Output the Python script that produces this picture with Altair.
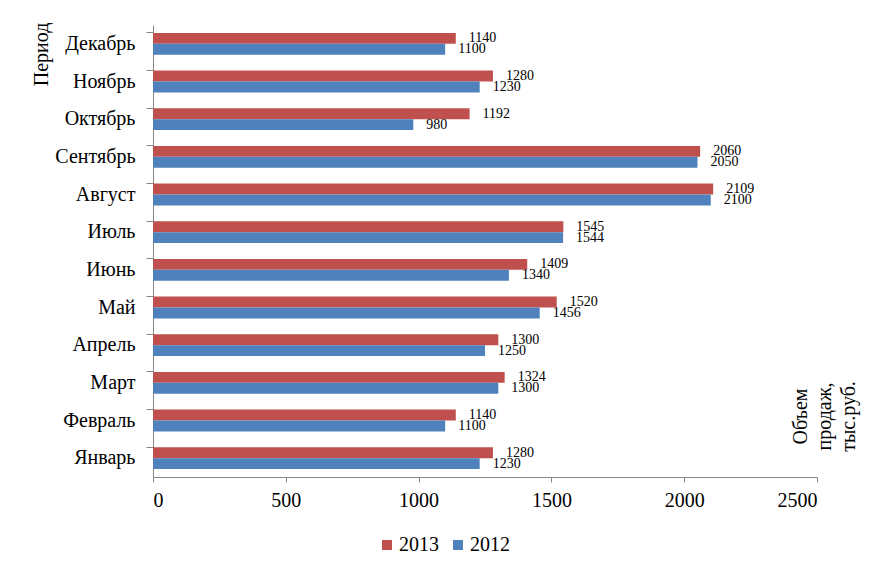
import altair as alt
import pandas as pd

months = ["Январь", "Февраль", "Март", "Апрель", "Май", "Июнь", "Июль",
          "Август", "Сентябрь", "Октябрь", "Ноябрь", "Декабрь"]
sales_2013 = [1280, 1140, 1324, 1300, 1520, 1409, 1545, 2109, 2060, 1192, 1280, 1140]
sales_2012 = [1230, 1100, 1300, 1250, 1456, 1340, 1544, 2100, 2050, 980, 1230, 1100]
years = ["2013", "2012"]
x_ticks = [0, 500, 1000, 1500, 2000, 2500]

rows = []
for m, a, b in zip(months, sales_2013, sales_2012):
    rows.append({"month": m, "year": "2013", "value": a})
    rows.append({"month": m, "year": "2012", "value": b})
df = pd.DataFrame(rows)

font = "Liberation Serif"
grey = "#868686"
y_order = months[::-1]

y_enc = alt.Y(
    "month:N",
    sort=y_order,
    scale=alt.Scale(domain=y_order, paddingInner=0.42, paddingOuter=0.21),
    axis=alt.Axis(
        title="Период", titleAngle=270, titleX=-112, titleY=29,
        titleAlign="center", titleBaseline="middle",
        titleFontSize=20, titleFont=font, titleFontWeight="normal", titleColor="black",
        labelFontSize=20, labelFont=font, labelColor="black", labelPadding=11,
        tickSize=7, bandPosition=0, domainColor=grey, tickColor=grey,
    ),
)
x_enc = alt.X(
    "value:Q",
    scale=alt.Scale(domain=[0, 2500], nice=False),
    axis=alt.Axis(
        values=x_ticks, grid=False, format="d",
        title=["Объем", "продаж,", "тыс.руб."], titleAngle=270,
        titleX=647, titleY=-61, titleAlign="center", titleBaseline="middle",
        titleLineHeight=24,
        titleFontSize=20, titleFont=font, titleFontWeight="normal", titleColor="black",
        labelFontSize=20, labelFont=font, labelColor="black", labelPadding=8,
        tickSize=5, domainColor=grey, tickColor=grey,
    ),
)
yoff = alt.YOffset("year:N", sort=years, scale=alt.Scale(domain=years))

base = alt.Chart(df).encode(y=y_enc, x=x_enc, yOffset=yoff)

bars = base.mark_bar().encode(
    color=alt.Color(
        "year:N",
        scale=alt.Scale(domain=years, range=["#C0504D", "#4F81BD"]),
        legend=alt.Legend(
            title=None, orient="none", legendX=224, legendY=510,
            direction="horizontal", symbolType="square", symbolSize=100,
            labelFontSize=20, labelFont=font, labelColor="black",
            columnPadding=9, labelOffset=2, padding=0, symbolStrokeWidth=0,
        ),
    )
)

labels = base.mark_text(
    align="left", baseline="middle", dx=13, fontSize=14, font=font, color="black"
).encode(text=alt.Text("value:Q", format="d"))

chart = (
    alt.layer(bars, labels)
    .properties(
        width=664, height=452,
        padding={"left": 145, "top": 17, "right": 56, "bottom": 90},
        autosize=alt.AutoSizeParams(type="none"),
    )
    .configure(font=font)
    .configure_view(stroke=None)
)

chart.save("out.html", embed_options={"renderer": "svg", "actions": False})
